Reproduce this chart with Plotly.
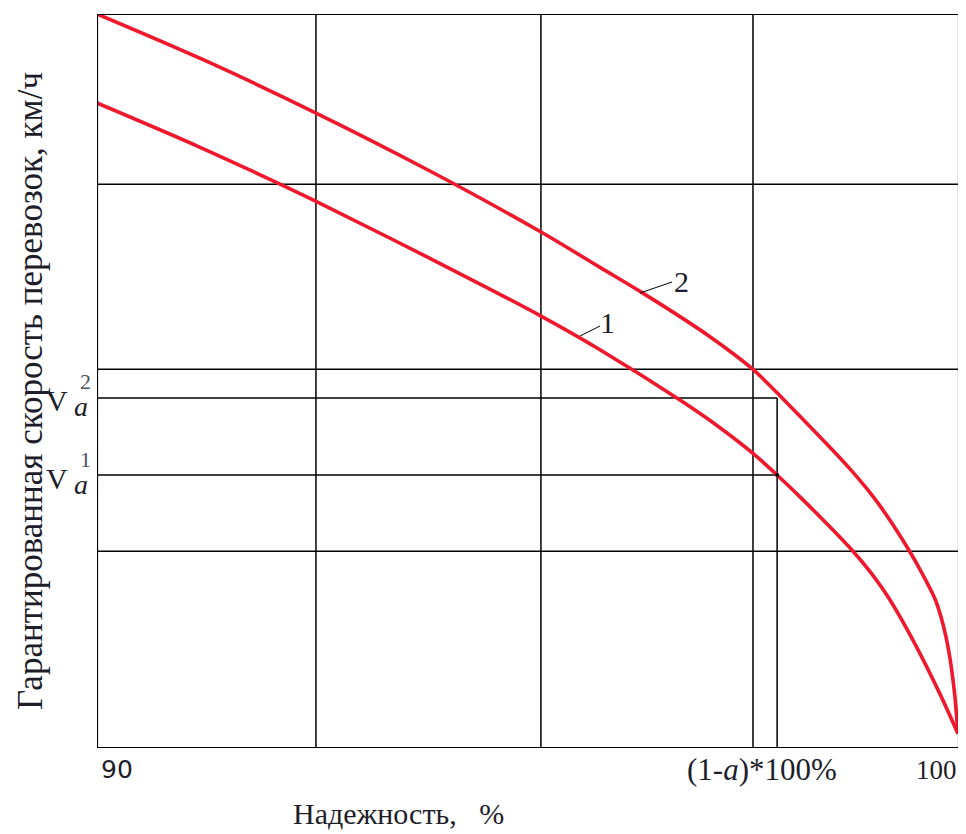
import plotly.graph_objects as go

# ---- data (y is a relative speed scale 0..100) ----
reliability_2 = [90.000, 91.264, 92.541, 93.840, 95.151, 95.835, 96.299, 96.763, 97.111, 97.401,
                 97.610, 97.761, 97.923, 98.155, 98.538, 98.735, 98.933, 99.084, 99.234, 99.432,
                 99.582, 99.722, 99.791, 99.849, 99.896, 99.930, 99.954, 99.977, 99.988]
speed_2 = [100.0, 93.60, 86.51, 78.75, 70.30, 65.48, 62.21, 58.77, 56.04, 53.54,
           51.58, 49.90, 47.99, 45.21, 40.53, 38.02, 35.29, 32.98, 30.41, 26.70,
           23.57, 20.30, 17.87, 15.15, 12.15, 9.29, 6.84, 3.57, 1.93]

reliability_1 = [90.000, 91.195, 92.123, 92.541, 93.863, 95.151, 95.835, 96.763, 97.227, 97.610,
                 97.889, 98.155, 98.469, 98.770, 98.968, 99.176, 99.490, 99.780, 99.988]
speed_1 = [87.87, 81.84, 76.83, 74.47, 66.70, 58.84, 54.26, 47.40, 43.64, 40.14,
           37.19, 34.21, 30.53, 26.81, 24.03, 20.60, 14.16, 7.34, 1.95]

grid_x = [92.54, 95.15, 97.61]
grid_y = [76.8, 51.6, 26.8]
alpha_x = 97.89            # (1-a)*100%
v_levels = [47.68, 37.19]  # Va2, Va1
tick_labels = ["90", "(1-<i>a</i>)*100%", "100"]

OFF = 8  # page body margin
W, H = 966 - OFF, 834 - OFF
L, R, T, B = 97 - OFF, 7, 14 - OFF, 86
PW, PH = W - L - R, H - T - B

def px(xp):  # page pixel -> paper x
    return (xp - OFF - L) / PW

def py(yp):  # page pixel -> paper y
    return (H - B - (yp - OFF)) / PH

RED = "#f0182c"
fig = go.Figure()
for xs, ys in [(reliability_2, speed_2), (reliability_1, speed_1)]:
    fig.add_trace(go.Scatter(x=xs, y=ys, mode="lines",
                             line=dict(color=RED, width=3.6, shape="spline", smoothing=1.0),
                             showlegend=False, hoverinfo="skip"))

BL = dict(color="black", width=1.5)
shapes = []
for gx in grid_x:
    shapes.append(dict(type="line", xref="x", yref="y", x0=gx, x1=gx, y0=0, y1=100, line=BL, layer="below"))
for gy in grid_y:
    shapes.append(dict(type="line", xref="x", yref="y", x0=90, x1=100, y0=gy, y1=gy, line=BL, layer="below"))
for vy in v_levels:
    shapes.append(dict(type="line", xref="x", yref="y", x0=90, x1=alpha_x, y0=vy, y1=vy, line=BL, layer="below"))
shapes.append(dict(type="line", xref="x", yref="y", x0=alpha_x, x1=alpha_x, y0=0, y1=v_levels[0],
                   line=BL, layer="below"))
shapes.append(dict(type="rect", xref="x", yref="y", x0=90, x1=100, y0=0, y1=100,
                   line=dict(color="black", width=2.2), layer="above"))
# leader lines for curve labels
shapes.append(dict(type="line", xref="paper", yref="paper", x0=px(640), y0=py(293), x1=px(672), y1=py(282),
                   line=dict(color="black", width=1)))
shapes.append(dict(type="line", xref="paper", yref="paper", x0=px(580), y0=py(336), x1=px(600), y1=py(326),
                   line=dict(color="black", width=1)))

SERIF = "Liberation Serif"
TXT = "#1e1e2a"
ann = []
def label(x, y, text, size, family=SERIF, color=TXT, angle=0):
    ann.append(dict(x=px(x), y=py(y), xref="paper", yref="paper", text=text, showarrow=False,
                    xanchor="center", yanchor="middle",
                    textangle=angle, font=dict(family=family, size=size, color=color)))

label(117, 770, tick_labels[0], 25, family="DejaVu Sans")
label(762, 770, tick_labels[1], 31)
label(936, 770, tick_labels[2], 27)
label(398, 813, "Надежность,   %", 30)
label(30, 391, "Гарантированная скорость перевозок, км/ч", 35, angle=-90)
label(681, 281, "2", 30)
label(607, 322, "1", 30)
for vy_px, sup in [(400, "2"), (478, "1")]:
    label(57, vy_px, "V", 30)
    label(81, vy_px + 6, "<i>a</i>", 28)
    label(85, vy_px - 19, sup, 22, color="#4a5560")

fig.add_trace(go.Scatter(x=[alpha_x], y=[v_levels[1]], mode="markers",
                         marker=dict(color="black", size=4), showlegend=False, hoverinfo="skip"))

fig.update_layout(
    width=W, height=H, margin=dict(l=L, r=R, t=T, b=B),
    paper_bgcolor="white", plot_bgcolor="white",
    xaxis=dict(range=[90, 100], showgrid=False, zeroline=False, showticklabels=False, ticks=""),
    yaxis=dict(range=[0, 100], showgrid=False, zeroline=False, showticklabels=False, ticks=""),
    shapes=shapes, annotations=ann,
)
fig.write_html("out.html")
